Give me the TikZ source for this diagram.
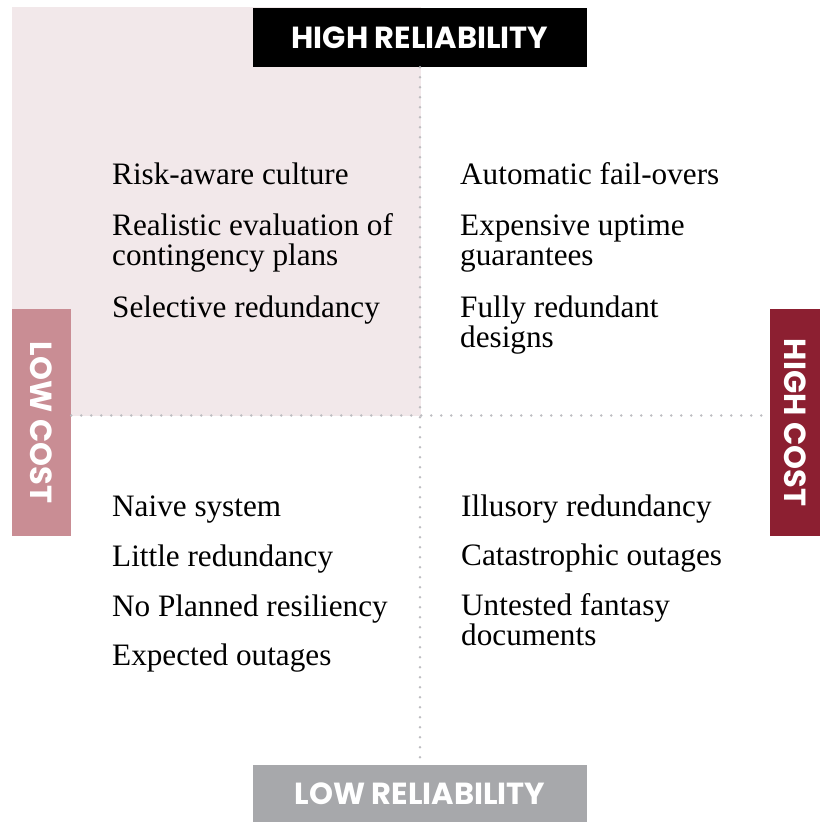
\documentclass[tikz,border=0pt]{standalone}
\usepackage{fontspec}
\setmainfont{Liberation Serif}
\newfontfamily\tagfont{Poppins}
\usetikzlibrary{positioning}
\definecolor{quadpink}{HTML}{F2E8EA}
\definecolor{lowrose}{HTML}{C98D94}
\definecolor{highred}{HTML}{8C1F31}
\definecolor{lowgray}{HTML}{A7A8AB}
\definecolor{dotgray}{HTML}{BDBDC1}
% item of two lines, baseline on the first one
\newcommand\twolines[2]{\begin{tabular}[t]{@{}l@{}}#1\\#2\end{tabular}}

\begin{document}
\begin{tikzpicture}[x=1pt,y=-1pt,
item/.style={anchor=base west,inner sep=0pt,font=\fontsize{31.2}{30}\selectfont},
tag/.style={fill=#1,text=white,inner sep=0pt,font=\tagfont\bfseries\fontsize{30.5}{30.5}\selectfont},
grid/.style={draw=dotgray,line width=2.8pt,line cap=round,dash pattern=on 0pt off 10pt}]

\useasboundingbox(0,0)rectangle(820,823);
\fill[quadpink](12,7)rectangle(420.5,415.5);
\coordinate(mid)at(420.5,415.5);

\node[tag=black,minimum width=334,minimum height=59](hirel)at(420,37.5){HIGH RELIABILITY};
\node[tag=lowgray,minimum width=334,minimum height=57](lorel)at(420,793.5){LOW RELIABILITY};
% side tags: text sits a little above the middle of the box
\node[tag=lowrose,rotate=-90,minimum width=227,minimum height=59](locost)at(41.5,422.5){LOW COST\hspace{8pt}};
\node[tag=highred,rotate=-90,minimum width=227,minimum height=50](hicost)at(795,422.5){HIGH COST\hspace{8pt}};

\draw[grid](hirel.south)--(lorel.north);
\draw[grid](locost.north |- mid)--(hicost.south |- mid);

% top left
\node[item](r1)at(112,184){Risk-aware culture};
\node[item](r2)at(112,235){\twolines{Realistic evaluation of}{contingency plans}};
\node[item](r3)at(112,317){Selective redundancy};
% top right
\node[item](a1)at(460,184){Automatic fail-overs};
\node[item](a2)at(460,235){\twolines{Expensive uptime}{guarantees}};
\node[item](a3)at(460,317){\twolines{Fully redundant}{designs}};
% bottom left
\node[item](n1)at(112,516){Naive system};
\node[item](n2)at(112,566){Little redundancy};
\node[item](n3)at(112,616){No Planned resiliency};
\node[item](n4)at(112,665){Expected outages};
% bottom right
\node[item](i1)at(461,516){Illusory redundancy};
\node[item](i2)at(461,565){Catastrophic outages};
\node[item](i3)at(461,615){\twolines{Untested fantasy}{documents}};
\end{tikzpicture}
\end{document}
